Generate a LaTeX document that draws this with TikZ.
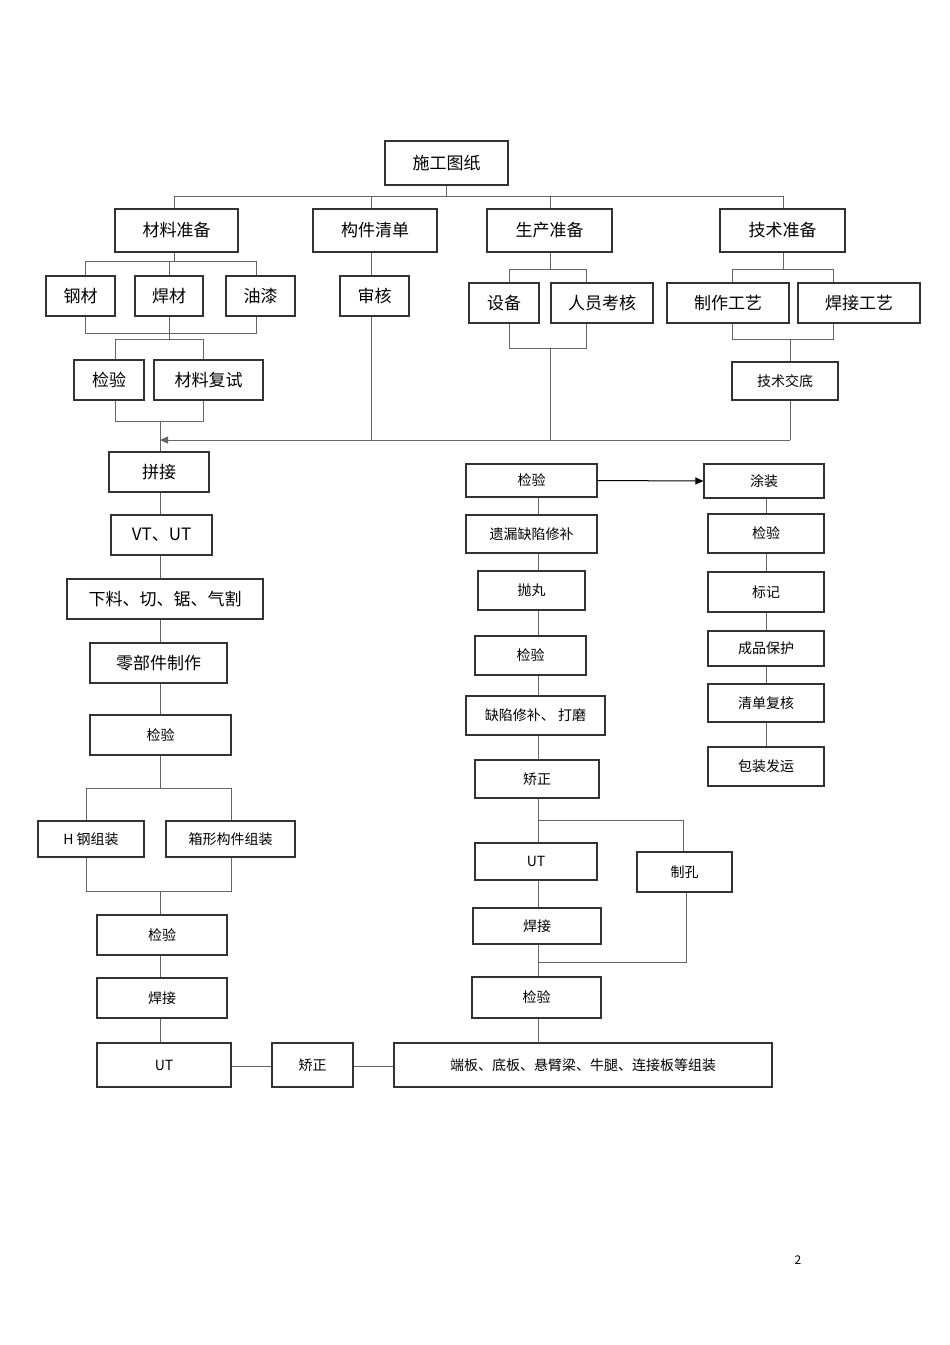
\documentclass[tikz,border=0pt]{standalone}
\usepackage{fontspec}
\setmainfont{Noto Sans CJK SC}
\usetikzlibrary{arrows.meta}
\tikzset{box/.style={draw=black!80,line width=1.1pt,inner sep=0pt,fill=white},
 ln/.style={draw=black!60,line width=1pt},
 big/.style={font=\fontsize{17}{17}\selectfont},
 sm/.style={font=\fontsize{14}{14}\selectfont}}
\newcommand\bx[7]{\node[box,#7,minimum width={#4pt-#2pt},minimum height={#5pt-#3pt}] (#1) at ({(#2+#4)/2},{(#3+#5)/2}) {#6};}
\begin{document}
\begin{tikzpicture}[x=1pt,y=-1pt]
\useasboundingbox (0,0) rectangle (950,1345);
\fill[white] (0,0) rectangle (950,1345);
% connectors top
\draw[ln] (446,185) -- (446,196) coordinate (t0);
\draw[ln] (174,209) |- (783,196) -- (783,209);
\draw[ln] (371,196) -- (371,209);
\draw[ln] (550,196) -- (550,209);
\draw[ln] (174,252) -- (174,261);
\draw[ln] (85,276) |- (256,261) -- (256,276);
\draw[ln] (169,261) -- (169,276);
\draw[ln] (85,316) |- (256,333) -- (256,316);
\draw[ln] (169,316) -- (169,339);
\draw[ln] (115,360) |- (203,339) -- (203,360);
\draw[ln] (115,400) |- (203,421) -- (203,400);
\draw[ln] (160,421) -- (160,452);
\draw[ln] (371,252) -- (371,276);
\draw[ln] (371,316) -- (371,440);
\draw[ln] (550,252) -- (550,269);
\draw[ln] (509,283) |- (586,269) -- (586,283);
\draw[ln] (509,323) |- (586,348) -- (586,323);
\draw[ln] (550,348) -- (550,440);
\draw[ln] (783,252) -- (783,269);
\draw[ln] (732,283) |- (833,269) -- (833,283);
\draw[ln] (732,323) |- (833,339) -- (833,323);
\draw[ln] (790,339) -- (790,362);
\draw[ln] (790,400) -- (790,440) coordinate (ar);
\coordinate (al) at (160,440);
\draw[ln,-{Triangle[length=8pt,width=7pt]}] (ar) -- (al);
% boxes top
\bx{sg}{385}{141}{508}{185}{施工图纸}{big}
\bx{clzb}{115}{209}{238}{252}{材料准备}{big}
\bx{gjqd}{313}{209}{437}{252}{构件清单}{big}
\bx{sczb}{487}{209}{612}{252}{生产准备}{big}
\bx{jszb}{720}{209}{845}{252}{技术准备}{big}
\bx{gc}{46}{276}{115}{316}{钢材}{big}
\bx{hc}{135}{276}{203}{316}{焊材}{big}
\bx{yq}{226}{276}{295}{316}{油漆}{big}
\bx{sh}{340}{276}{409}{316}{审核}{big}
\bx{sb}{469}{283}{539}{323}{设备}{big}
\bx{ry}{551}{283}{653}{323}{人员考核}{big}
\bx{zzgy}{667}{283}{789}{323}{制作工艺}{big}
\bx{hjgy}{798}{283}{920}{323}{焊接工艺}{big}
\bx{jy0}{74}{360}{144}{400}{检验}{big}
\bx{clfs}{154}{360}{263}{400}{材料复试}{big}
\bx{jsjd}{732}{362}{838}{400}{技术交底}{sm}
% left column
\draw[ln] (160,492) -- (160,643);
\draw[ln] (160,683) -- (160,788);
\draw[ln] (86,821) |- (231,788) -- (231,821);
\draw[ln] (86,857) |- (231,891) -- (231,857);
\draw[ln] (160,891) -- (160,1043);
\draw[ln] (231,1066) -- (272,1066);
\draw[ln] (353,1066) -- (394,1066);
\bx{pj}{109}{452}{209}{492}{拼接}{big}
\bx{vt}{111}{515}{212}{555}{VT、UT}{big}
\bx{xl}{67}{579}{263}{619}{下料、切、锯、气割}{big}
\bx{lbj}{90}{643}{227}{683}{零部件制作}{big}
\bx{jy1}{90}{715}{231}{755}{检验}{sm}
\bx{hg}{38}{821}{144}{857}{H 钢组装}{sm}
\bx{xx}{166}{821}{295}{857}{箱形构件组装}{sm}
\bx{jy2}{97}{915}{227}{955}{检验}{sm}
\bx{hj1}{97}{978}{227}{1018}{焊接}{sm}
\bx{ut1}{97}{1043}{231}{1087}{UT}{sm}
\bx{jz1}{272}{1043}{353}{1087}{矫正}{sm}
\bx{db}{394}{1043}{772}{1087}{端板、底板、悬臂梁、牛腿、连接板等组装}{sm}
% middle column
\draw[ln] (538,497) -- (538,1043);
\draw[ln] (538,820) -| (683,852);
\draw[ln] (686,892) |- (538,962);
\bx{jy3}{466}{464}{597}{497}{检验}{sm}
\bx{yl}{466}{515}{597}{553}{遗漏缺陷修补}{sm}
\bx{pw}{478}{571}{585}{610}{抛丸}{sm}
\bx{jy4}{475}{636}{586}{675}{检验}{sm}
\bx{qx}{466}{696}{605}{735}{缺陷修补、 打磨}{sm}
\bx{jz2}{475}{760}{599}{798}{矫正}{sm}
\bx{ut2}{475}{843}{597}{880}{UT}{sm}
\bx{hj2}{473}{908}{601}{944}{焊接}{sm}
\bx{zk}{637}{852}{732}{892}{制孔}{sm}
\bx{jy5}{472}{977}{601}{1018}{检验}{sm}
% right column
\draw[ln] (766,498) -- (766,747);
\bx{tz}{704}{464}{824}{498}{涂装}{sm}
\bx{jy6}{708}{514}{824}{553}{检验}{sm}
\bx{bj}{708}{572}{824}{612}{标记}{sm}
\bx{cp}{708}{631}{824}{666}{成品保护}{sm}
\bx{qd}{708}{684}{824}{722}{清单复核}{sm}
\bx{bz}{708}{747}{824}{786}{包装发运}{sm}
\draw[black,line width=1pt,-{Triangle[length=8pt,width=7pt]}] (jy3.east) -- (tz.west);
\node[font=\fontsize{12}{12}\selectfont] (pg) at (798,1260) {2};
\end{tikzpicture}
\end{document}
